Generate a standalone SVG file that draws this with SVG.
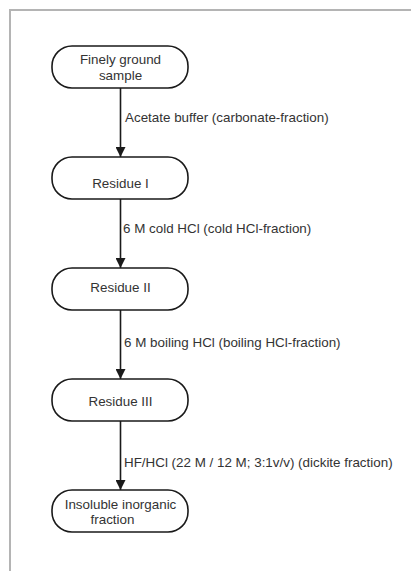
<svg xmlns="http://www.w3.org/2000/svg" width="411" height="571" viewBox="0 0 411 571">
<defs>
<style>
.node{fill:#fff;stroke:#1a1a1a;stroke-width:1.6}
.t{font-family:"Liberation Sans",Arial,sans-serif;font-size:13.4px;fill:#333;text-anchor:middle}
.l{font-family:"Liberation Sans",Arial,sans-serif;font-size:13.4px;fill:#333}
.edge{stroke:#1a1a1a;stroke-width:1.6;fill:none;marker-end:url(#ah)}
</style>
<marker id="ah" viewBox="0 0 10 10" refX="10" refY="5" markerWidth="10" markerHeight="10" markerUnits="userSpaceOnUse" orient="auto">
<path d="M0,0 L10,5 L0,10 z" fill="#1a1a1a"/>
</marker>
</defs>
<rect width="411" height="571" fill="#fff"/>
<path d="M10,571 V10 H411" fill="none" stroke="#b4b4b4" stroke-width="2"/>
<g id="connectors">
<line class="edge" x1="120.5" y1="88" x2="120.5" y2="157"/>
<line class="edge" x1="120.5" y1="199" x2="120.5" y2="268"/>
<line class="edge" x1="120.5" y1="310" x2="120.5" y2="379"/>
<line class="edge" x1="120.5" y1="421" x2="120.5" y2="490"/>
<text class="l" x="125" y="122">Acetate buffer (carbonate-fraction)</text>
<text class="l" x="123" y="233">6 M cold HCl (cold HCl-fraction)</text>
<text class="l" x="124" y="347">6 M boiling HCl (boiling HCl-fraction)</text>
<text class="l" x="124" y="467">HF/HCl (22 M / 12 M; 3:1v/v) (dickite fraction)</text>
</g>
<g id="n1"><rect class="node" x="52" y="46" width="136" height="42" rx="20" ry="20"/><text class="t" x="120.5" y="64">Finely ground</text><text class="t" x="120.5" y="80">sample</text></g>
<g id="n2"><rect class="node" x="52" y="157" width="136" height="42" rx="20" ry="20"/><text class="t" x="120.5" y="188">Residue I</text></g>
<g id="n3"><rect class="node" x="52" y="268" width="136" height="42" rx="20" ry="20"/><text class="t" x="120.5" y="292">Residue II</text></g>
<g id="n4"><rect class="node" x="52" y="379" width="136" height="42" rx="20" ry="20"/><text class="t" x="120.5" y="406">Residue III</text></g>
<g id="n5"><rect class="node" x="52" y="490" width="136" height="42" rx="20" ry="20"/><text class="t" x="120.5" y="509">Insoluble inorganic</text><text class="t" x="112.5" y="524">fraction</text></g>
</svg>
